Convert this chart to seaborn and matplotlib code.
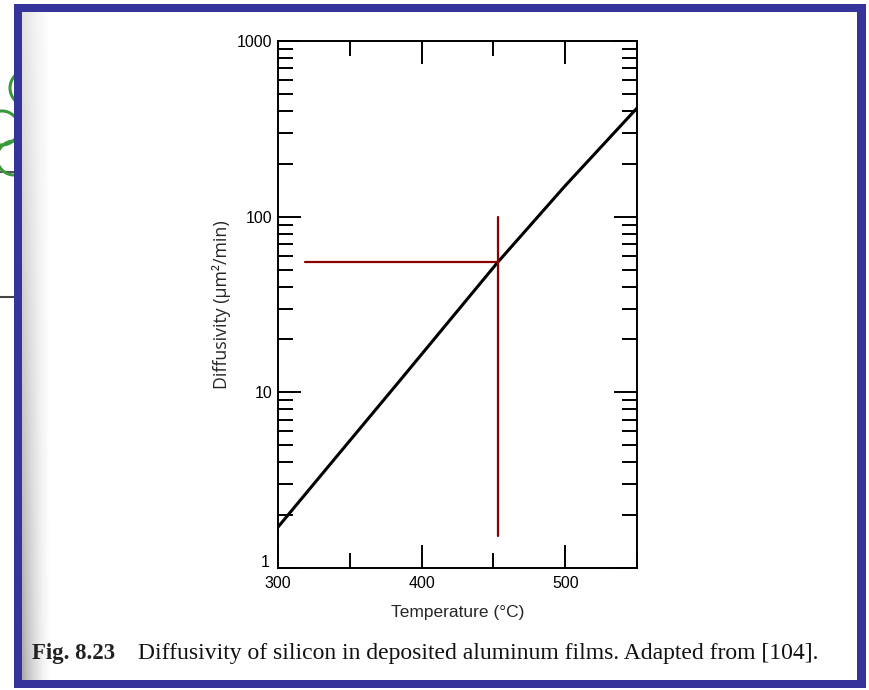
import matplotlib
matplotlib.use("Agg")
import matplotlib.pyplot as plt
import matplotlib.patches as mpatches
import matplotlib.ticker as mticker
import matplotlib.transforms as mtransforms
import numpy as np
import pandas as pd
import seaborn as sns

# ─── Data ─────────────────────────────────────────────────────────────────────

temperature_c = [300, 329, 385, 453, 500, 550]
diffusivity = [1.71, 3.3, 11.7, 55, 150, 415]

marker_temp = 453          # vertical red guide
marker_diff = 55           # horizontal red guide
hline_temp_range = [319, 453]
vline_diff_range = [1.52, 100]

x_major = [300, 400, 500]
y_labels = {1: "1", 10: "10", 100: "100", 1000: "1000"}

caption_num = "Fig. 8.23"
caption = "Diffusivity of silicon in deposited aluminum films. Adapted from [104]."

# ─── Style ────────────────────────────────────────────────────────────────────

sns.set_style("white")
plt.rcParams['font.family'] = ['Liberation Sans', 'DejaVu Sans']

W, H = 869, 690
fig = plt.figure(figsize=(W / 100, H / 100), dpi=100)
fig.patch.set_facecolor("white")


def fx(px):
    return px / W


def fy(py):
    return 1 - py / H


# slide background bits peeking out on the left
for cx, cy, r in [(28, 88, 18), (2, 128, 17), (14, 158, 17)]:
    fig.patches.append(mpatches.Ellipse((fx(cx), fy(cy)), 2 * r / W, 2 * r / H,
                                        transform=fig.transFigure, fill=False,
                                        edgecolor="#3a9a3a", linewidth=2.2, zorder=0))
fig.add_artist(plt.Line2D([0, fx(14)], [fy(172), fy(172)], transform=fig.transFigure,
                          color="#333333", linewidth=1.2, zorder=0))
fig.add_artist(plt.Line2D([0, fx(14)], [fy(297), fy(297)], transform=fig.transFigure,
                          color="#444444", linewidth=1.5, zorder=0))

# blue frame and white page
fig.patches.append(mpatches.Rectangle((fx(14), fy(688)), fx(866) - fx(14), fy(4) - fy(688),
                                      transform=fig.transFigure, facecolor="#34349a",
                                      edgecolor="none", zorder=1))
fig.patches.append(mpatches.Rectangle((fx(22), fy(680)), fx(857) - fx(22), fy(12) - fy(680),
                                      transform=fig.transFigure, facecolor="white",
                                      edgecolor="none", zorder=2))

# scan shadow along the binding edge
shade = fig.add_axes([fx(22), fy(680), fx(50) - fx(22), fy(12) - fy(680)], zorder=3)
grad = np.linspace(1, 0, 64)[None, :] * np.linspace(0.35, 0.75, 128)[:, None]
shade.imshow(grad, cmap="Greys", vmin=0, vmax=1.6, aspect="auto", alpha=0.9)
shade.set_axis_off()

# ─── Plot ─────────────────────────────────────────────────────────────────────

ax = fig.add_axes([fx(278), fy(568), fx(637) - fx(278), fy(41) - fy(568)], zorder=5)
ax.set_facecolor("none")

df = pd.DataFrame({"T": temperature_c, "D": diffusivity})
sns.lineplot(data=df, x="T", y="D", color="black", linewidth=2.2, ax=ax)

ax.plot(hline_temp_range, [marker_diff, marker_diff], color="#8b0000", linewidth=1.6)
ax.plot([marker_temp, marker_temp], vline_diff_range, color="#8b0000", linewidth=1.6)

ax.set_yscale("log")
ax.set_xlim(300, 550)
ax.set_ylim(1, 1000)

ax.xaxis.set_major_locator(mticker.FixedLocator(x_major))
ax.xaxis.set_minor_locator(mticker.MultipleLocator(50))
ax.yaxis.set_major_locator(mticker.FixedLocator(list(y_labels.keys())))
ax.yaxis.set_major_formatter(mticker.FuncFormatter(lambda v, _: y_labels.get(int(round(v)), "")))
ax.yaxis.set_minor_locator(mticker.LogLocator(base=10, subs=np.arange(2, 10)))
ax.yaxis.set_minor_formatter(mticker.NullFormatter())

ax.tick_params(which="both", direction="in", bottom=True, left=True, top=True, right=True,
               width=1.4, labelsize=11.5, colors="black")
ax.tick_params(which="major", length=16.5)
ax.tick_params(which="minor", length=10.8)
ax.tick_params(axis="y", which="major", pad=4)
ax.tick_params(axis="x", which="major", pad=6)

for s in ax.spines.values():
    s.set_linewidth(1.4)
    s.set_color("black")

# the "1" sits a little above the corner, clear of "300"
fig.canvas.draw()
for lbl in ax.get_yticklabels():
    if lbl.get_text() == "1":
        lbl.set_transform(lbl.get_transform() +
                          mtransforms.ScaledTranslation(-2 / 72, 5 / 72, fig.dpi_scale_trans))

ax.set_xlabel("Temperature (°C)", fontsize=12.5, labelpad=10)
ax.set_ylabel("Diffusivity (μm²/min)", fontsize=12.8, labelpad=4,
              family=["Open Sans", "DejaVu Sans"])

# ─── Caption ──────────────────────────────────────────────────────────────────

fig.text(fx(32), fy(659), caption_num, fontsize=16.5, fontweight="bold",
         family=["Liberation Serif", "DejaVu Serif"], color="#222222", va="baseline")
fig.text(fx(138), fy(659), caption, fontsize=17,
         family=["Liberation Serif", "DejaVu Serif"], color="#111111", va="baseline")

fig.savefig("out.png", dpi=100)
